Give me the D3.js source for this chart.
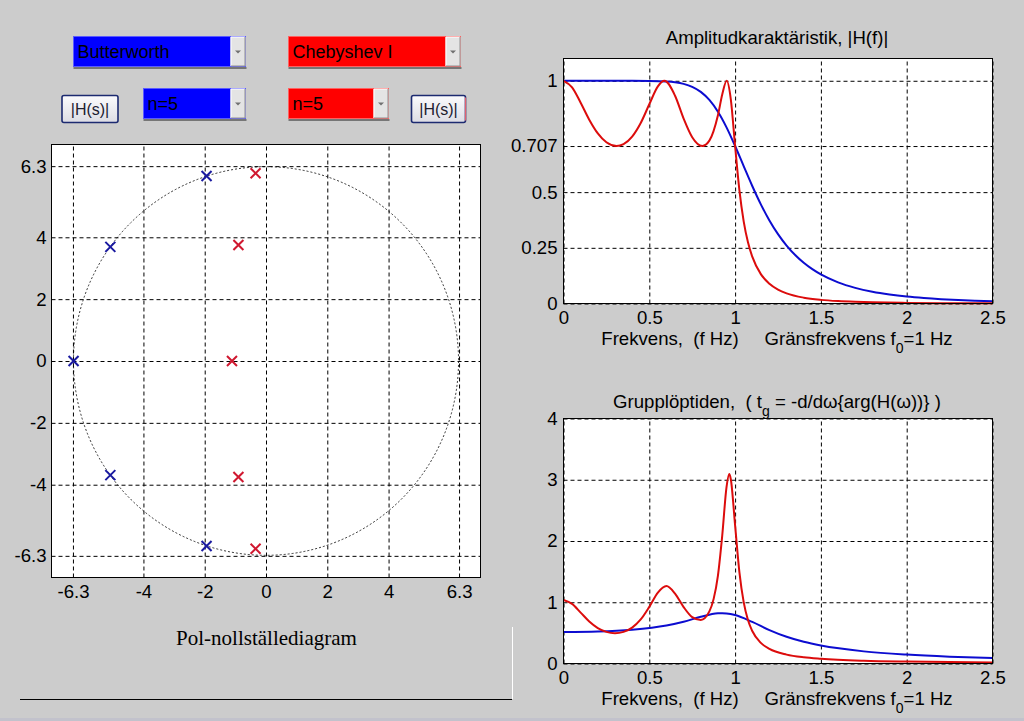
<!DOCTYPE html>
<html><head><meta charset="utf-8">
<script src="https://cdn.jsdelivr.net/npm/d3@7"></script>
<style>
body{margin:0;background:#cccccc;}
svg{display:block;font-family:"Liberation Sans",Arial,sans-serif;}
</style></head>
<body><svg id="c" width="1024" height="721"></svg>
<script>
// ---------- data ----------
const butterPolesRe = [-1.94, -5.08, -6.28, -5.08, -1.94];
const butterPolesIm = [5.98, 3.69, 0, -3.69, -5.98];
const chebPolesRe = [-0.34, -0.90, -1.11, -0.90, -0.34];
const chebPolesIm = [6.07, 3.75, 0, -3.75, -6.07];
const unitCircleRadius = 6.283;

const pzTicks = [-6.3, -4, -2, 0, 2, 4, 6.3];
const freqTicks = [0, 0.5, 1, 1.5, 2, 2.5];
const ampTicks = [0, 0.25, 0.5, 0.707, 1];
const gdTicks = [0, 1, 2, 3, 4];

const freqAmpButter = [0, 0.1, 0.2, 0.3, 0.4, 0.5, 0.6, 0.65, 0.7, 0.75, 0.8, 0.85, 0.9, 0.95, 1.0, 1.05, 1.1, 1.15, 1.2, 1.25, 1.3, 1.35, 1.4, 1.45, 1.5, 1.6, 1.7, 1.8, 1.9, 2.0, 2.1, 2.2, 2.3, 2.4, 2.5];
const ampButter = [1, 1, 1, 1, 0.9999, 0.9995, 0.997, 0.9933, 0.9862, 0.9730, 0.9503, 0.9140, 0.8611, 0.7910, 0.7071, 0.6168, 0.5275, 0.4452, 0.3729, 0.3114, 0.2601, 0.2177, 0.1828, 0.1541, 0.1306, 0.0949, 0.0703, 0.0528, 0.0404, 0.0312, 0.0245, 0.0194, 0.0155, 0.0126, 0.0102];

const freqAmpCheb = [0, 0.05, 0.1, 0.15, 0.2, 0.25, 0.309, 0.35, 0.4, 0.45, 0.5, 0.55, 0.588, 0.65, 0.7, 0.75, 0.809, 0.85, 0.9, 0.925, 0.951, 0.975, 1.0, 1.025, 1.05, 1.075, 1.1, 1.15, 1.2, 1.25, 1.3, 1.4, 1.5, 1.6, 1.7, 1.8, 2.0, 2.2, 2.5];
const ampCheb = [1, 0.9707, 0.9015, 0.8255, 0.7638, 0.7239, 0.7071, 0.7154, 0.7493, 0.8105, 0.8944, 0.9750, 1.0, 0.9329, 0.8304, 0.7468, 0.7071, 0.7311, 0.8453, 0.9381, 1.0, 0.9169, 0.7071, 0.5093, 0.3691, 0.2748, 0.2103, 0.1319, 0.0885, 0.0623, 0.0455, 0.0262, 0.0163, 0.0107, 0.0073, 0.0051, 0.0028, 0.0016, 0.0008];

const freqGdButter = [0, 0.2, 0.4, 0.6, 0.7, 0.8, 0.9, 0.925, 0.95, 1.0, 1.1, 1.2, 1.3, 1.4, 1.5, 1.75, 2.0, 2.25, 2.5];
const gdButter = [0.515, 0.523, 0.552, 0.621, 0.683, 0.762, 0.819, 0.822, 0.818, 0.791, 0.679, 0.546, 0.436, 0.354, 0.293, 0.198, 0.145, 0.111, 0.088];

const freqGdCheb = [0, 0.05, 0.1, 0.15, 0.2, 0.25, 0.3, 0.35, 0.4, 0.45, 0.5, 0.55, 0.6, 0.65, 0.7, 0.75, 0.8, 0.85, 0.875, 0.9, 0.925, 0.95, 0.966, 0.975, 1.0, 1.025, 1.05, 1.075, 1.1, 1.15, 1.2, 1.3, 1.4, 1.5, 1.75, 2.0, 2.25, 2.5];
const gdCheb = [1.038, 0.974, 0.831, 0.686, 0.579, 0.516, 0.495, 0.516, 0.586, 0.719, 0.925, 1.158, 1.265, 1.141, 0.921, 0.757, 0.711, 0.851, 1.055, 1.436, 2.088, 2.880, 3.093, 3.009, 2.256, 1.491, 1.001, 0.710, 0.531, 0.336, 0.238, 0.145, 0.101, 0.077, 0.045, 0.031, 0.023, 0.018];

const leftFilter = "Butterworth", rightFilter = "Chebyshev I";
const leftOrder = "n=5", rightOrder = "n=5";

// ---------- styles ----------
const BLUE = "#0c0cd0", RED = "#dc0c0c";
const MBLUE = "#1a1aa0", MRED = "#d01830";
const svg = d3.select("#c");
const FS = 18.6;

svg.append("rect").attr("x",0).attr("y",0).attr("width",1024).attr("height",721).attr("fill","#cccccc");
svg.append("rect").attr("x",0).attr("y",718).attr("width",1024).attr("height",3).attr("fill","#c2c2cc");

// ---------- controls ----------
function dropdown(x, y, w, h, color, label) {
  const g = svg.append("g");
  g.append("rect").attr("x",x).attr("y",y).attr("width",w).attr("height",h).attr("fill",color)
    .attr("stroke", color === "#0000ff" ? "#5a5aff" : "#ff6060").attr("stroke-width",1);
  const bw = 15;
  g.append("rect").attr("x",x+w-bw).attr("y",y+0.5).attr("width",bw).attr("height",h-1).attr("fill","#e4e4e4");
  g.append("path").attr("d",`M${x+w-bw+0.5},${y+h-0.5}V${y+0.5}H${x+w-0.5}`).attr("stroke","#ffffff").attr("fill","none");
  g.append("path").attr("d",`M${x+w-bw+0.5},${y+h-0.5}H${x+w-0.5}V${y+0.5}`).attr("stroke","#909090").attr("fill","none");
  const cx = x+w-bw/2, cy = y+h/2;
  g.append("path").attr("d",`M${cx-3},${cy-1}L${cx+3},${cy-1}L${cx},${cy+2}Z`).attr("fill","#707070");
  g.append("line").attr("x1",x).attr("x2",x+w+1).attr("y1",y+h+1.5).attr("y2",y+h+1.5).attr("stroke","#202020").attr("stroke-width",1);
  g.append("text").attr("x",x+4).attr("y",y+h/2+6.5).attr("font-size",18).attr("fill","#000").text(label);
}
dropdown(73.5, 36.5, 172, 30, "#0000ff", leftFilter);
dropdown(288.5, 36.5, 172, 30, "#ff0000", rightFilter);
dropdown(143.5, 88.5, 102, 30, "#0000ff", leftOrder);
dropdown(288.5, 88.5, 100, 30, "#ff0000", rightOrder);

function button(x, y, w, h, rightColor) {
  const g = svg.append("g");
  const grad = svg.append("defs").append("linearGradient").attr("id","bg"+Math.round(x)).attr("x1",0).attr("x2",0).attr("y1",0).attr("y2",1);
  grad.append("stop").attr("offset","0%").attr("stop-color","#fbfbfd");
  grad.append("stop").attr("offset","100%").attr("stop-color","#dcdce4");
  g.append("rect").attr("x",x).attr("y",y).attr("width",w).attr("height",h).attr("rx",2)
    .attr("fill",`url(#bg${Math.round(x)})`).attr("stroke","#1c2a70").attr("stroke-width",1.6);
  if (rightColor) g.append("line").attr("x1",x+w).attr("x2",x+w).attr("y1",y+2).attr("y2",y+h-2).attr("stroke",rightColor).attr("stroke-width",1.2);
  g.append("text").attr("x",x+w/2).attr("y",y+h/2+6).attr("text-anchor","middle").attr("font-size",16).attr("fill","#202030").text("|H(s)|");
}
button(62, 95.5, 56, 27, null);
button(411.5, 95.5, 54, 27, "#e06070");

// ---------- helpers ----------
const fmtTick = d => String(d);
function grid(g, x, y, xt, yt) {
  const [x0, x1] = x.range(), [y0, y1] = y.range();
  const gx = g.append("g").attr("transform",`translate(0,${y0})`)
    .call(d3.axisBottom(x).tickValues(xt).tickSize(-(y0-y1)).tickFormat(""));
  const gy = g.append("g").attr("transform",`translate(${x0},0)`)
    .call(d3.axisLeft(y).tickValues(yt).tickSize(-(x1-x0)).tickFormat(""));
  [gx, gy].forEach(a => {
    a.select(".domain").remove();
    a.selectAll("line").attr("stroke","#000").attr("stroke-width",1).attr("stroke-dasharray","4,3");
  });
}
function labels(g, x, y, xt, yt, xpad, ypad) {
  const [x0] = x.range(), [y0] = y.range();
  const ax = g.append("g").attr("transform",`translate(0,${y0})`)
    .call(d3.axisBottom(x).tickValues(xt).tickSize(0).tickPadding(xpad).tickFormat(fmtTick));
  const ay = g.append("g").attr("transform",`translate(${x0},0)`)
    .call(d3.axisLeft(y).tickValues(yt).tickSize(0).tickPadding(ypad).tickFormat(fmtTick));
  [ax, ay].forEach(a => {
    a.select(".domain").remove();
    a.selectAll("text").attr("font-size",FS).attr("fill","#000").attr("font-family","Liberation Sans, Arial, sans-serif");
  });
}
function frame(g, x, y) {
  const [x0, x1] = x.range(), [y0, y1] = y.range();
  g.append("rect").attr("x",x0).attr("y",y1).attr("width",x1-x0).attr("height",y0-y1)
    .attr("fill","none").attr("stroke","#000").attr("stroke-width",1);
}
function plotBg(g, x, y) {
  const [x0, x1] = x.range(), [y0, y1] = y.range();
  g.append("rect").attr("x",x0).attr("y",y1).attr("width",x1-x0).attr("height",y0-y1).attr("fill","#fff");
}

// ---------- pole-zero plot ----------
{
  const g = svg.append("g");
  const x = d3.scaleLinear().domain([-7, 7]).range([51.5, 480.5]);
  const y = d3.scaleLinear().domain([-7, 7]).range([577.5, 144.5]);
  plotBg(g, x, y);
  grid(g, x, y, pzTicks, pzTicks);
  g.append("ellipse").attr("cx",x(0)).attr("cy",y(0))
    .attr("rx",x(unitCircleRadius)-x(0)).attr("ry",y(0)-y(unitCircleRadius))
    .attr("fill","none").attr("stroke","#000").attr("stroke-width",0.8).attr("stroke-dasharray","2,2");
  labels(g, x, y, pzTicks, pzTicks, 7, 5);
  frame(g, x, y);
  function marks(re, im, color) {
    const pts = re.map((r, i) => [r, im[i]]);
    g.selectAll(null).data(pts).enter().append("path")
      .attr("d", d => { const cx = x(d[0]), cy = y(d[1]), s = 5; return `M${cx-s},${cy-s}L${cx+s},${cy+s}M${cx-s},${cy+s}L${cx+s},${cy-s}`; })
      .attr("stroke", color).attr("stroke-width", 2).attr("fill","none");
  }
  marks(butterPolesRe, butterPolesIm, MBLUE);
  marks(chebPolesRe, chebPolesIm, MRED);
  svg.append("text").attr("x",266.5).attr("y",645).attr("text-anchor","middle")
    .attr("font-family","Liberation Serif, Times New Roman, serif").attr("font-size",21).attr("fill","#000")
    .text("Pol-nollställediagram");
}

// ---------- x label helper ----------
function xLabel(cx, baseline) {
  const t = svg.append("text").attr("x",cx).attr("y",baseline).attr("text-anchor","middle")
    .attr("font-size",FS).attr("fill","#000").attr("xml:space","preserve").style("white-space","pre");
  t.append("tspan").text("Frekvens,  (f Hz)     Gränsfrekvens f");
  t.append("tspan").attr("dy",8).attr("font-size",14).text("0");
  t.append("tspan").attr("dy",-8).text("=1 Hz");
}

// ---------- amplitude plot ----------
{
  const g = svg.append("g");
  const x = d3.scaleLinear().domain([0, 2.5]).range([563.5, 992.5]);
  const y = d3.scaleLinear().domain([0, 1.1]).range([303.5, 58.5]);
  plotBg(g, x, y);
  grid(g, x, y, freqTicks, ampTicks);
  const line = d3.line().x(d => x(d[0])).y(d => y(d[1])).curve(d3.curveMonotoneX);
  g.append("path").attr("d", line(freqAmpButter.map((f, i) => [f, ampButter[i]])))
    .attr("fill","none").attr("stroke",BLUE).attr("stroke-width",2);
  g.append("path").attr("d", line(freqAmpCheb.map((f, i) => [f, ampCheb[i]])))
    .attr("fill","none").attr("stroke",RED).attr("stroke-width",2);
  labels(g, x, y, freqTicks, ampTicks, 7, 6);
  frame(g, x, y);
  svg.append("text").attr("x",777).attr("y",44).attr("text-anchor","middle").attr("font-size",FS).attr("fill","#000")
    .text("Amplitudkaraktäristik, |H(f)|");
  xLabel(777, 345);
}

// ---------- group delay plot ----------
{
  const g = svg.append("g");
  const x = d3.scaleLinear().domain([0, 2.5]).range([563.5, 992.5]);
  const y = d3.scaleLinear().domain([0, 4]).range([663.5, 418.5]);
  plotBg(g, x, y);
  grid(g, x, y, freqTicks, gdTicks);
  const line = d3.line().x(d => x(d[0])).y(d => y(d[1])).curve(d3.curveMonotoneX);
  g.append("path").attr("d", line(freqGdButter.map((f, i) => [f, gdButter[i]])))
    .attr("fill","none").attr("stroke",BLUE).attr("stroke-width",2);
  g.append("path").attr("d", line(freqGdCheb.map((f, i) => [f, gdCheb[i]])))
    .attr("fill","none").attr("stroke",RED).attr("stroke-width",2);
  labels(g, x, y, freqTicks, gdTicks, 7, 6);
  frame(g, x, y);
  const t = svg.append("text").attr("x",777).attr("y",408).attr("text-anchor","middle").attr("font-size",FS).attr("fill","#000")
    .attr("xml:space","preserve").style("white-space","pre");
  t.append("tspan").text("Grupplöptiden,  ( t");
  t.append("tspan").attr("dy",8).attr("font-size",14).text("g");
  t.append("tspan").attr("dy",-8).text(" = -d/dω{arg(H(ω))} )");
  xLabel(777, 705);
}

// ---------- frame lines ----------
svg.append("line").attr("x1",20).attr("x2",512).attr("y1",699.5).attr("y2",699.5).attr("stroke","#000").attr("stroke-width",1.2);
svg.append("line").attr("x1",512.5).attr("x2",512.5).attr("y1",627).attr("y2",699).attr("stroke","#ffffff").attr("stroke-width",1);
</script>
</body></html>
